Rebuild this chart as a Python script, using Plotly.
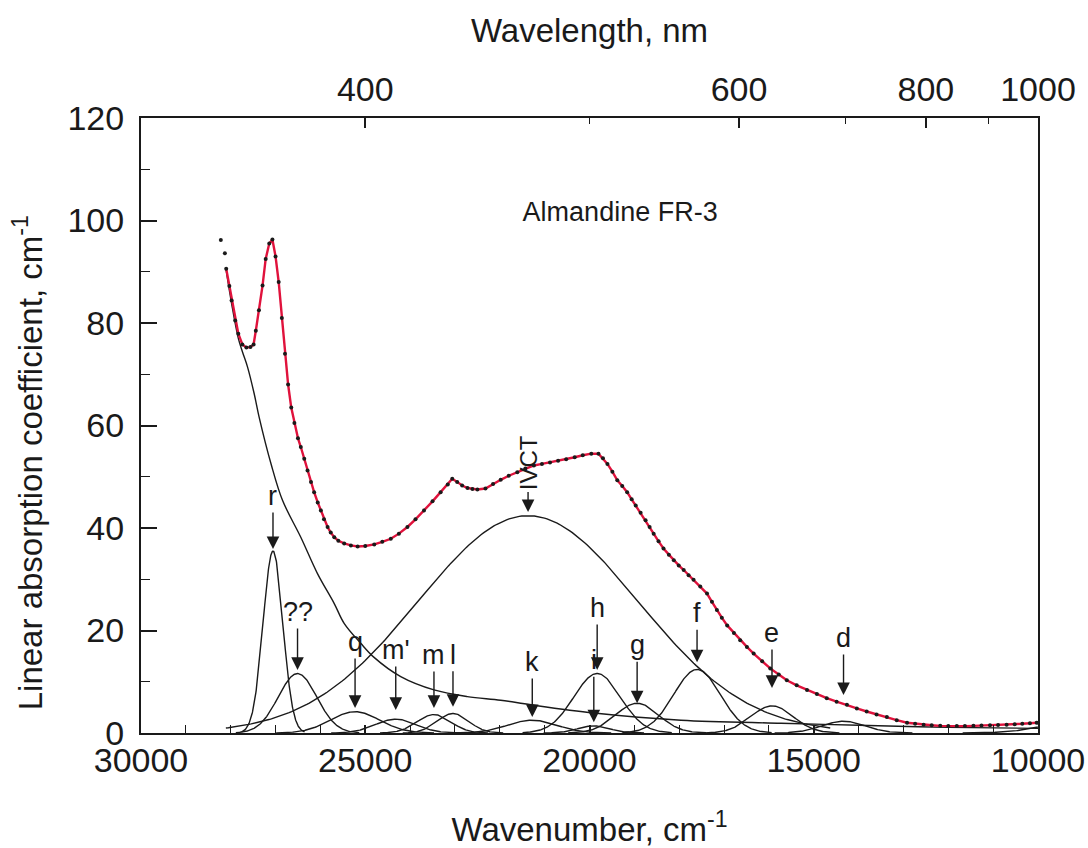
import numpy as np
import plotly.graph_objects as go

# Measured absorption spectrum (wavenumber in cm-1, coefficient in cm-1)
SPEC_WN = [28220, 28130, 28100, 28030, 27980, 27900, 27830, 27740, 27650, 27560,
           27490, 27440, 27370, 27290, 27220, 27140, 27070, 27000, 26930, 26860,
           26790, 26720, 26650, 26580, 26500, 26437, 26360, 26287, 26210, 26140,
           26060, 25990, 25920, 25840, 25770, 25690, 25600, 25470, 25320, 25170,
           25000, 24800, 24620, 24430, 24250, 24060, 23880, 23690, 23500, 23320,
           23160, 23060, 22950, 22840, 22720, 22610, 22500, 22320, 22150, 21980,
           21800, 21610, 21430, 21240, 21060, 20880, 20700, 20520, 20330, 20150,
           19960, 19800, 19700, 19600, 19490, 19380, 19270, 19160, 19060, 18970,
           18860, 18750, 18660, 18570, 18460, 18350, 18230, 18120, 18010, 17900,
           17790, 17680, 17530, 17380, 17270, 17160, 17050, 16930, 16780, 16640,
           16490, 16340, 16150, 15970, 15780, 15600, 15380, 15150, 14930, 14710,
           14490, 14260, 14040, 13820, 13600, 13370, 13150, 12920, 12740, 12550,
           12370, 12180, 12000, 11810, 11630, 11440, 11260, 11070, 10890, 10700,
           10520, 10350, 10180, 10030]
SPEC_ABS = [96.2, 93.6, 90.6, 87.2, 84.4, 80.5, 77.9, 75.8, 75.2, 75.3,
            75.8, 78.5, 82.5, 87.3, 92.5, 95.5, 96.3, 93.0, 88.0, 81.0,
            74.0, 68.0, 63.5, 60.5, 57.5, 55.8, 53.5, 51.2, 49.0, 47.0,
            45.0, 43.4, 41.7, 40.2, 39.1, 38.2, 37.5, 37.0, 36.6, 36.4,
            36.5, 36.8, 37.3, 37.9, 38.9, 40.2, 41.7, 43.4, 45.2, 47.0,
            48.5, 49.6, 49.0, 48.3, 47.8, 47.6, 47.5, 47.7, 48.6, 49.4,
            50.2, 50.9, 51.6, 52.2, 52.5, 52.8, 53.1, 53.4, 53.8, 54.2,
            54.5, 54.5, 53.6, 52.5, 51.0, 49.3, 48.2, 47.0, 45.6, 44.4,
            43.0, 41.5, 40.2, 38.9, 37.4, 36.0, 34.8, 33.7, 32.7, 31.8,
            30.8, 29.9, 28.6, 27.2, 25.6, 24.0, 22.5, 21.0, 19.5, 18.1,
            16.8, 15.5, 14.0, 12.6, 11.4, 10.3, 9.3, 8.4, 7.6, 6.8,
            6.1, 5.5, 4.8, 4.2, 3.6, 3.1, 2.5, 2.0, 1.8, 1.6,
            1.5, 1.4, 1.35, 1.35, 1.35, 1.4, 1.45, 1.5, 1.55, 1.6,
            1.7, 1.8, 1.9, 2.0]
FIT_START = 2  # the fitted envelope begins at the third spectral point

# UV absorption edge (background component)
UV_WN = [28105, 27980, 27830, 27735, 27624, 27476, 27365, 27100, 26845, 26437,
         26065, 25694, 25471, 25100, 24810, 24209, 23467, 22724, 21982, 21304,
         19900, 17960, 15730, 14000, 12000, 10000]
UV_ABS = [90.5, 83.8, 77.0, 74.3, 71.4, 66.2, 61.6, 52.5, 45.4, 38.2,
          31.1, 25.3, 21.4, 17.5, 14.8, 11.0, 8.4, 7.1, 6.4, 5.5,
          3.9, 2.5, 1.9, 1.5, 1.1, 0.9]

# Gaussian bands: label, centre (cm-1), height (cm-1), sigma (cm-1)
BAND_LABELS = ["r", "??", "q", "m'", "m", "l", "IVCT", "k", "i", "h", "g", "f", "e", "d"]
BAND_CENTERS = [27057, 26510, 25227, 24320, 23468, 23044, 21370, 21276, 19904, 19829,
                18938, 17602, 15931, 14336]
BAND_HEIGHTS = [35.5, 11.6, 4.15, 2.7, 3.6, 3.8, 42.4, 2.5, 1.4, 11.6, 5.8, 12.4, 5.3, 2.3]
BAND_SIGMAS = [220, 430, 550, 450, 376, 350, 2450, 550, 350, 520, 480, 520, 470, 480]

# Unlabelled near-infrared band whose tail enters at the low-wavenumber end
NIR_CENTER, NIR_HEIGHT, NIR_SIGMA = 8800, 2.6, 900

# Wavelength ticks for the upper axis (nm)
WL_MAJOR = [400, 600, 800, 1000]
WL_MINOR = [500, 700, 900]

SAMPLE_NAME = "Almandine FR-3"
Y_TITLE = "Linear absorption coefficient, cm<sup>-1</sup>"

# Annotation placement: arrow tip gap above band top (cm-1 units) and label offset (px)
TIP_GAP = [0.4, 0.7, 0.75, 1.8, 1.3, 1.3, 0.7, 0.6, 0.7, 0.7, 0.0, 1.4, 3.5, 5.1]
LABEL_DY = [-53, -58, -66, -60, -53, -52, -49, -55, -62, -62, -58, -49, -55, -57]

FONT = "Liberation Sans, Arial, sans-serif"
BLACK = "#1a1a1a"
RED = "#e0123c"


def gaussian(center, height, sigma, span):
    x = np.linspace(center - span * sigma, center + span * sigma, 240)
    return x, height * np.exp(-((x - center) ** 2) / (2 * sigma ** 2))


fig = go.Figure()

# Individual band components
for c, h, s in zip(BAND_CENTERS, BAND_HEIGHTS, BAND_SIGMAS):
    span = 2.75 if s > 1000 else 3.2
    x, y = gaussian(c, h, s, span)
    fig.add_trace(go.Scatter(x=x, y=y, mode="lines",
                             line=dict(color=BLACK, width=1.4),
                             showlegend=False, hoverinfo="skip"))

x, y = gaussian(NIR_CENTER, NIR_HEIGHT, NIR_SIGMA, 3.2)
fig.add_trace(go.Scatter(x=x, y=y, mode="lines", line=dict(color=BLACK, width=1.4),
                         showlegend=False, hoverinfo="skip"))

# UV edge
fig.add_trace(go.Scatter(x=UV_WN, y=UV_ABS, mode="lines", line_shape="spline",
                         line=dict(color=BLACK, width=1.4),
                         showlegend=False, hoverinfo="skip"))

# Fitted envelope
fig.add_trace(go.Scatter(x=SPEC_WN[FIT_START:], y=SPEC_ABS[FIT_START:], mode="lines",
                         line=dict(color=RED, width=2.4),
                         showlegend=False, hoverinfo="skip"))

# Measured points
fig.add_trace(go.Scatter(x=SPEC_WN, y=SPEC_ABS, mode="markers",
                         marker=dict(color=BLACK, size=4),
                         showlegend=False, hoverinfo="skip"))

# Carrier for the wavelength axis
fig.add_trace(go.Scatter(x=[30000, 10000], y=[0, 0], xaxis="x2", mode="lines",
                         line=dict(width=0), opacity=0,
                         showlegend=False, hoverinfo="skip"))

annotations = []
for lab, c, h, gap, dy in zip(BAND_LABELS, BAND_CENTERS, BAND_HEIGHTS, TIP_GAP, LABEL_DY):
    annotations.append(dict(
        x=c, y=h + gap, xref="x", yref="y", text=lab,
        showarrow=True, arrowhead=2, arrowsize=1.8, arrowwidth=1.4,
        arrowcolor=BLACK, ax=0, ay=dy, standoff=0,
        textangle=-90 if lab == "IVCT" else 0,
        font=dict(family=FONT, size=27 if lab != "IVCT" else 24, color=BLACK)))

tickfont = dict(family=FONT, size=34, color=BLACK)
titlefont = dict(family=FONT, size=33, color=BLACK)

# Vertical axis title, centred slightly below the middle of the frame
annotations.append(dict(x=-0.125, y=0.44, xref="paper", yref="paper",
                        xanchor="center", yanchor="middle", textangle=-90,
                        text=Y_TITLE, showarrow=False, font=titlefont))

fig.update_layout(
    width=1088, height=848,
    margin=dict(l=141, r=50, t=118, b=115),
    paper_bgcolor="white", plot_bgcolor="white",
    showlegend=False,
    title=dict(text=SAMPLE_NAME, x=0.57, y=0.75, xanchor="center", yanchor="middle",
               xref="container", yref="container",
               font=dict(family=FONT, size=27, color=BLACK)),
    annotations=annotations,
    xaxis=dict(range=[30000, 10000], tickmode="array",
               tickvals=[30000, 25000, 20000, 15000, 10000],
               ticktext=["30000", "25000", "20000", "15000", "10000"],
               ticks="inside", ticklen=8, tickwidth=1.5, tickcolor=BLACK,
               minor=dict(dtick=1000, tick0=10000, ticks="inside", ticklen=8,
                          tickwidth=1.3, tickcolor=BLACK),
               showline=True, linewidth=2, linecolor=BLACK, mirror=False,
               showgrid=False, zeroline=False, tickfont=tickfont,
               ticklabelstandoff=-4, automargin=False,
               title=dict(text="Wavenumber, cm<sup>-1</sup>", font=titlefont,
                          standoff=44)),
    xaxis2=dict(range=[30000, 10000], overlaying="x", side="top", anchor="y",
                tickmode="array", tickvals=[1e7 / w for w in WL_MAJOR],
                ticktext=[str(w) for w in WL_MAJOR],
                ticks="inside", ticklen=10, tickwidth=1.5, tickcolor=BLACK,
                minor=dict(tickvals=[1e7 / w for w in WL_MINOR], ticks="inside",
                           ticklen=6, tickwidth=1.3, tickcolor=BLACK),
                showline=True, linewidth=2, linecolor=BLACK,
                showgrid=False, zeroline=False, tickfont=tickfont,
                ticklabelstandoff=1, automargin=False,
                title=dict(text="Wavelength, nm", font=titlefont, standoff=18)),
    yaxis=dict(range=[0, 120], tickmode="linear", tick0=0, dtick=20,
               ticks="inside", ticklen=16, tickwidth=1.5, tickcolor=BLACK,
               minor=dict(dtick=10, ticks="inside", ticklen=9, tickwidth=1.3,
                          tickcolor=BLACK),
               showline=True, linewidth=2, linecolor=BLACK, mirror=True,
               showgrid=False, zeroline=False, tickfont=tickfont,
               ticklabelstandoff=8, automargin=False),
)

fig.write_html("out.html")
